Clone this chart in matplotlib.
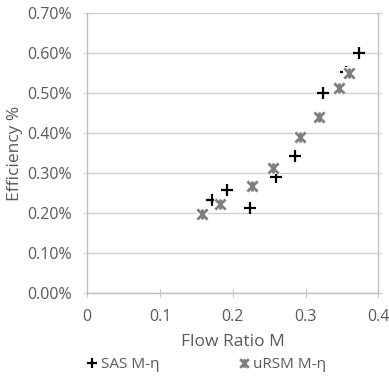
import numpy as np
import matplotlib.pyplot as plt
from matplotlib.path import Path
from matplotlib.ticker import FuncFormatter, MultipleLocator

# data (efficiency in %)
sas_m = [0.373, 0.324, 0.286, 0.260, 0.192, 0.224, 0.171, 0.356]
sas_eff = [0.601, 0.501, 0.343, 0.291, 0.258, 0.212, 0.233, 0.553]

ursm_m = [0.360, 0.346, 0.318, 0.292, 0.255, 0.226, 0.182, 0.157]
ursm_eff = [0.549, 0.512, 0.441, 0.391, 0.312, 0.268, 0.223, 0.197]

plt.rcParams['font.family'] = ['Open Sans', 'DejaVu Sans']
grey = '#595959'
axcol = '#d0d0d0'

# star marker like excel (x with a vertical bar)
star = Path([(-1, -1), (1, 1), (-1, 1), (1, -1), (0, -1), (0, 1)],
            [Path.MOVETO, Path.LINETO, Path.MOVETO, Path.LINETO, Path.MOVETO, Path.LINETO])

fig = plt.figure(figsize=(3.89, 3.78), dpi=100)
ax = fig.add_axes([87.3/389, 1-293.3/378, (378.3-87.3)/389, (293.3-13)/378])

ax.plot(sas_m, sas_eff, linestyle='none', marker='+', color='black',
        markersize=8.5, markeredgewidth=1.6, label='SAS M-η', zorder=3)
# white backing behind the star markers (they hide the crosses underneath)
ax.plot(ursm_m, ursm_eff, linestyle='none', marker='s', color='white',
        markersize=9, markeredgewidth=0, zorder=4)
ax.plot(ursm_m, ursm_eff, linestyle='none', marker=star, color='#7f7f7f',
        markersize=7.3, markeredgewidth=2.0, fillstyle='none', label='uRSM M-η', zorder=5)

ax.set_xlim(0, 0.4)
ax.set_ylim(0, 0.7)
ax.xaxis.set_major_locator(MultipleLocator(0.1))
ax.yaxis.set_major_locator(MultipleLocator(0.1))
ax.xaxis.set_major_formatter(FuncFormatter(lambda v, p: '0' if v == 0 else f'{v:.1f}'))
ax.yaxis.set_major_formatter(FuncFormatter(lambda v, p: f'{v:.2f}%'))

ax.grid(axis='y', color=axcol, linewidth=1)
ax.set_axisbelow(True)
for s in ['left', 'bottom', 'right']:
    ax.spines[s].set_color('#bfbfbf')
    ax.spines[s].set_linewidth(1)
ax.spines['top'].set_visible(False)

ax.tick_params(axis='x', direction='inout', length=6, color='#bfbfbf', labelcolor=grey,
               labelsize=11.5, pad=8)
ax.tick_params(axis='y', direction='out', length=3, color=axcol, labelcolor=grey,
               labelsize=11.5, pad=8, right=True)

ax.set_xlabel('Flow Ratio M', color=grey, fontsize=12.5, labelpad=7)
ax.set_ylabel('Efficiency %', color=grey, fontsize=12.5, labelpad=3)

fig.legend(loc='center', bbox_to_anchor=(205/389, 1-365/378), ncol=2, frameon=False,
           fontsize=11, labelcolor=grey, handletextpad=0.1, columnspacing=5.0,
           handlelength=1.0, markerscale=0.85)

plt.savefig('out.png', dpi=100)
